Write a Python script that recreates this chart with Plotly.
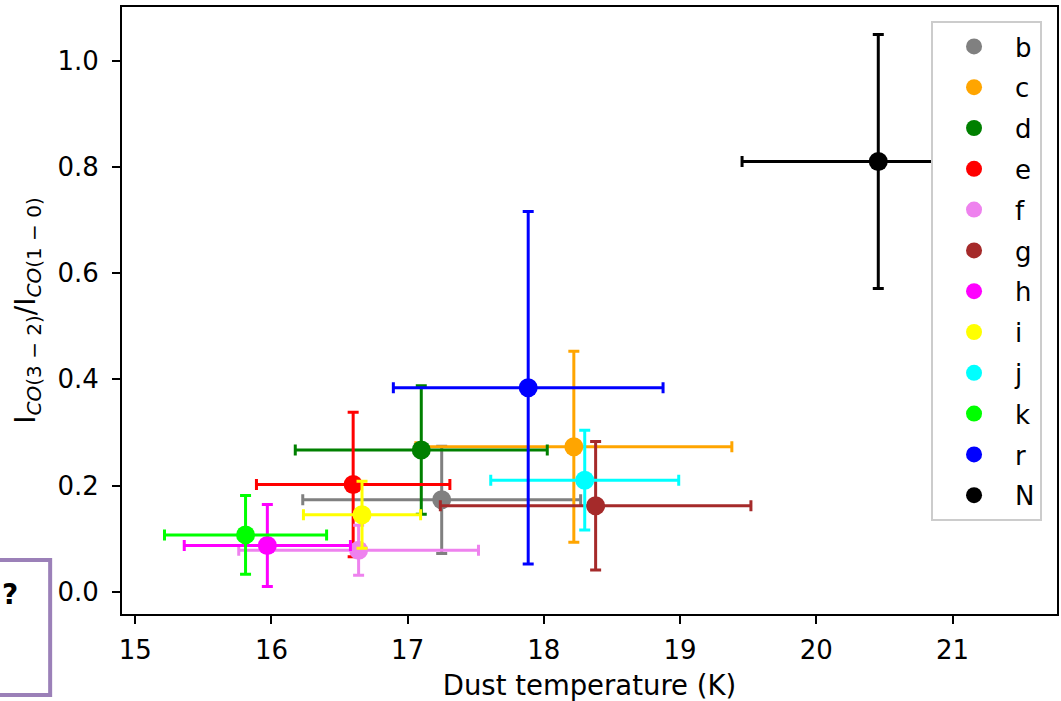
import plotly.graph_objects as go

# Region labels and their colours
labels = ["b", "c", "d", "e", "f", "g", "h", "i", "j", "k", "r", "N"]
colors = ["#808080", "#FFA500", "#008000", "#FF0000", "#EE82EE", "#A52A2A",
          "#FF00FF", "#FFFF00", "#00FFFF", "#00FF00", "#0000FF", "#000000"]

# Dust temperature (K) and its uncertainty
t_dust = [17.25, 18.22, 17.10, 16.60, 16.64, 18.38, 15.97, 16.665, 18.30, 15.81, 17.885, 20.455]
t_err = [1.02, 1.16, 0.925, 0.71, 0.88, 1.14, 0.61, 0.43, 0.69, 0.595, 0.99, 1.00]

# CO(3-2)/CO(1-0) line ratio and its uncertainty
ratio = [0.173, 0.273, 0.267, 0.202, 0.078, 0.162, 0.087, 0.145, 0.210, 0.107, 0.384, 0.810]
ratio_err = [0.101, 0.180, 0.121, 0.136, 0.047, 0.121, 0.077, 0.063, 0.094, 0.074, 0.332, 0.239]

x_ticks = [15, 16, 17, 18, 19, 20, 21]
y_ticks = [0.0, 0.2, 0.4, 0.6, 0.8, 1.0]

FONT = "DejaVu Sans"
W, H = 1061, 701
ML, MR, MT, MB = 122, 2, 7, 87

fig = go.Figure()
for i, lab in enumerate(labels):
    fig.add_trace(go.Scatter(
        x=[t_dust[i]], y=[ratio[i]], mode="markers", name=lab,
        legendgroup=lab,
        marker=dict(color=colors[i], size=19, line=dict(width=0)),
        error_x=dict(type="data", array=[t_err[i]], color=colors[i], thickness=3, width=5.5),
        error_y=dict(type="data", array=[ratio_err[i]], color=colors[i], thickness=3, width=5.5),
    ))


def padded(lo, hi, frac=0.05):
    span = hi - lo
    return [lo - frac * span, hi + frac * span]


x_range = padded(min(a - b for a, b in zip(t_dust, t_err)), max(a + b for a, b in zip(t_dust, t_err)))
y_range = padded(min(a - b for a, b in zip(ratio, ratio_err)), max(a + b for a, b in zip(ratio, ratio_err)))

axis_common = dict(
    showline=True, mirror=True, linecolor="black", linewidth=2,
    ticks="outside", ticklen=8, tickwidth=2, tickcolor="black",
    showgrid=False, zeroline=False,
    tickfont=dict(family=FONT, size=26, color="black"),
)

pw = W - ML - MR
ph = H - MT - MB


def px_x(p):
    return (p - ML) / pw


def px_y(p):
    return (H - MB - p) / ph


sub = '<sub><span style="font-size:20px"><i>CO</i>(%s − %s)</span></sub>'
y_title = "I" + sub % ("3", "2") + "/I" + sub % ("1", "0")

fig.update_layout(
    width=W, height=H,
    margin=dict(l=ML, r=MR, t=MT, b=MB),
    paper_bgcolor="white", plot_bgcolor="white",
    font=dict(family=FONT, size=26, color="black"),
    xaxis=dict(range=x_range, tickvals=x_ticks, ticktext=[str(v) for v in x_ticks],
               ticklabelstandoff=4,
               title=dict(text="Dust temperature (K)", font=dict(family=FONT, size=27.5), standoff=14),
               **axis_common),
    yaxis=dict(range=y_range, tickvals=y_ticks, ticktext=[f"{v:.1f}" for v in y_ticks],
               ticklabelstandoff=8,
               title=dict(text=y_title, font=dict(family=FONT, size=28), standoff=14),
               **axis_common),
    legend=dict(
        x=px_x(1044), xanchor="right", y=px_y(21), yanchor="top",
        bgcolor="white", bordercolor="#cccccc", borderwidth=2,
        font=dict(family=FONT, size=26, color="black"),
        tracegroupgap=4, itemwidth=72,
    ),
    showlegend=True,
)

# small framed badge at the lower-left corner
fig.add_shape(type="rect", xref="paper", yref="paper",
              x0=px_x(-10), x1=px_x(50), y0=px_y(695), y1=px_y(560),
              line=dict(color="#9b80b8", width=4), fillcolor="rgba(0,0,0,0)")
fig.add_annotation(xref="paper", yref="paper", x=px_x(0), y=px_y(594),
                   xanchor="left", yanchor="middle", showarrow=False,
                   text="<b>?</b>", font=dict(family=FONT, size=28, color="black"))

fig.write_html("out.html")
